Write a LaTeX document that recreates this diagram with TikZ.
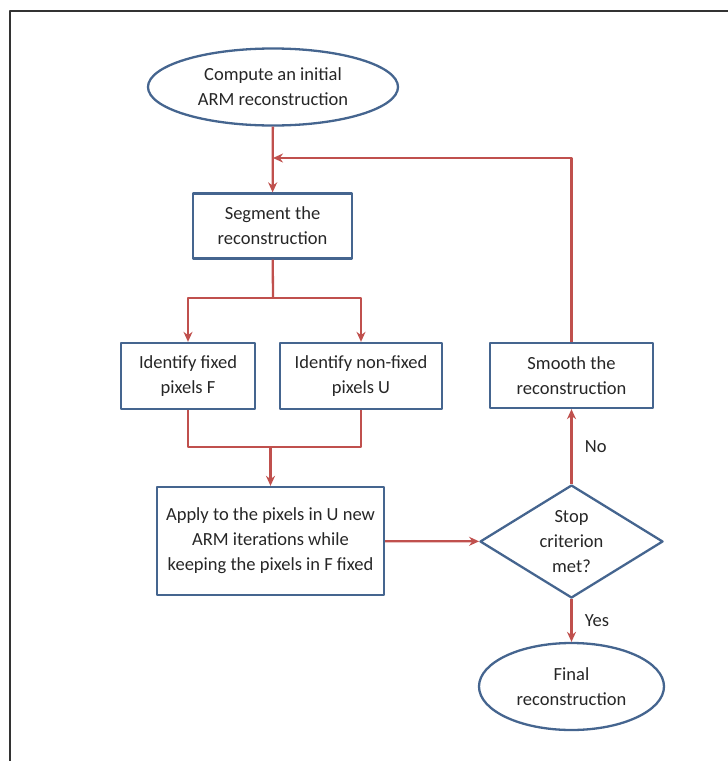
\documentclass[tikz,border=0pt]{standalone}
\usepackage{fontspec}
\setmainfont{Carlito}
\usetikzlibrary{shapes.geometric,positioning,arrows.meta}
\definecolor{boxblue}{HTML}{45658F}
\definecolor{arrred}{HTML}{C0504D}
\definecolor{txtgray}{HTML}{262626}
\begin{document}
\begin{tikzpicture}[x=1pt,y=-1pt,>={Stealth[length=10pt,width=9pt]},line join=round,
	font=\fontsize{18.5}{25}\selectfont,
	box/.style={draw=boxblue,line width=2.3pt,text=txtgray,align=center,inner sep=0pt},
	oval/.style={box,ellipse},
	test/.style={box,diamond,aspect=1.6},
	flow/.style={draw=arrred,line width=2.3pt}]
	\useasboundingbox (0,0) rectangle (728,761);
	% frame
	\draw[line width=2.5pt,black!80] (728,11) -- (10,11) -- (10,761);
	\node[oval,minimum width=250,minimum height=77] (start) at (273,87) {Compute an initial\\ARM reconstruction};
	\node[box,minimum width=159,minimum height=65] (seg) at (272.5,226) {Segment the\\reconstruction};
	\node[box,minimum width=134,minimum height=66] (fixed) at (188,376) {Identify fixed\\pixels F};
	\node[box,minimum width=162,minimum height=66] (nonfixed) at (361,376) {Identify non-fixed\\pixels U};
	\node[box,minimum width=227,minimum height=108] (apply) at (270.5,541) {Apply to the pixels in U new\\ARM iterations while\\keeping the pixels in F fixed};
	\node[test,minimum width=183,minimum height=113] (stop) at (571.5,541.5) {Stop\\criterion\\met?};
	\node[box,minimum width=163,minimum height=65] (smooth) at (571.5,375.5) {Smooth the\\reconstruction};
	\node[oval,minimum width=185,minimum height=87] (final) at (571.5,686.5) {Final\\reconstruction};
	\coordinate (loop) at (273,158);
	\coordinate (split) at (273,298);
	\coordinate (merge) at (270.5,447);
	% connectors
	\draw[flow,->] (start) -- (seg);
	\draw[flow,->] (smooth.north) |- (loop);
	\draw[flow] (seg) -- (split);
	\draw[flow,->] (split) -| (fixed.north);
	\draw[flow,->] (split) -| (nonfixed.north);
	\draw[flow] (fixed.south) |- (merge);
	\draw[flow] (nonfixed.south) |- (merge);
	\draw[flow,->] (merge) -- (apply.north);
	\draw[flow,->] (apply) -- (stop);
	\draw[flow,->] (stop) -- node[right=9pt,text=txtgray] (no) {No} (smooth);
	\draw[flow,->] (stop) -- node[right=9pt,text=txtgray] (yes) {Yes} (final);
\end{tikzpicture}
\end{document}
